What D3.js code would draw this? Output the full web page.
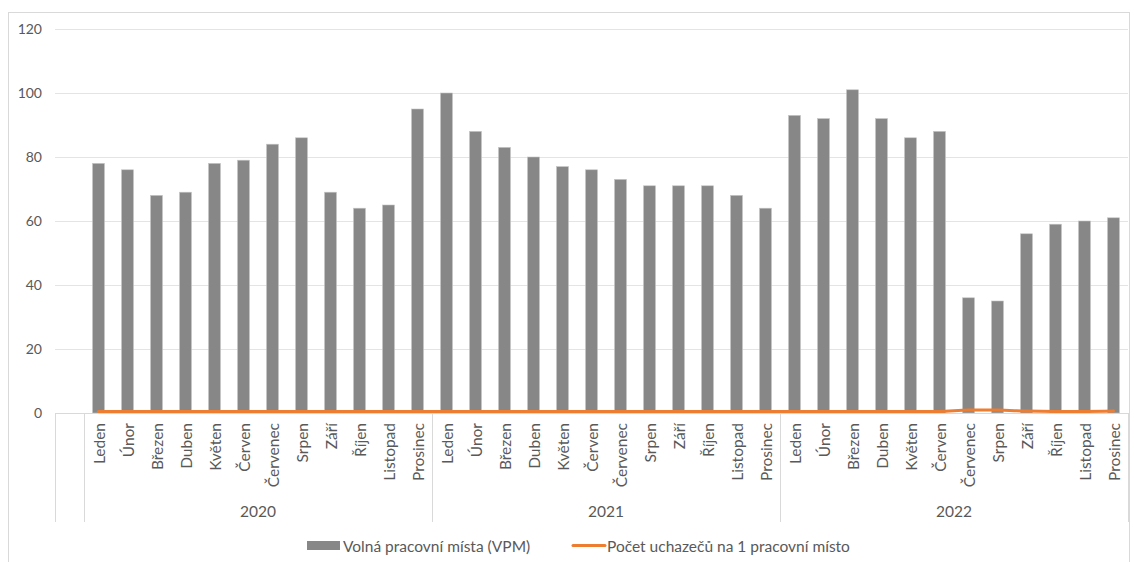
<!DOCTYPE html>
<html>
<head>
<meta charset="utf-8">
<script src="https://cdn.jsdelivr.net/npm/d3@7"></script>
<style>
  html, body { margin: 0; padding: 0; background: #fff; }
  svg { display: block; }
  text { font-family: Lato, "Noto Sans", sans-serif; fill: #595959; }
</style>
</head>
<body>
<svg id="chart" width="1134" height="562"></svg>
<script>
const years = ["2020", "2021", "2022"];
const months = ["Leden", "Únor", "Březen", "Duben", "Květen", "Červen", "Červenec", "Srpen", "Září", "Říjen", "Listopad", "Prosinec"];
const vpm2020 = [78, 76, 68, 69, 78, 79, 84, 86, 69, 64, 65, 95];
const vpm2021 = [100, 88, 83, 80, 77, 76, 73, 71, 71, 71, 68, 64];
const vpm2022 = [93, 92, 101, 92, 86, 88, 36, 35, 56, 59, 60, 61];
const uch2020 = [0.5, 0.5, 0.5, 0.5, 0.5, 0.5, 0.5, 0.5, 0.5, 0.5, 0.5, 0.5];
const uch2021 = [0.5, 0.5, 0.5, 0.5, 0.5, 0.5, 0.5, 0.5, 0.5, 0.5, 0.5, 0.5];
const uch2022 = [0.5, 0.5, 0.5, 0.5, 0.5, 0.5, 0.9, 0.9, 0.6, 0.5, 0.5, 0.6];
const yTicks = [0, 20, 40, 60, 80, 100, 120];
const seriesNames = ["Volná pracovní místa (VPM)", "Počet uchazečů na 1 pracovní místo"];

(function () {
const vpmByYear = [vpm2020, vpm2021, vpm2022];
const uchByYear = [uch2020, uch2021, uch2022];
const rows = [];
years.forEach((yr, yi) => months.forEach((m, mi) => rows.push({
  key: yr + "-" + m, year: yr, month: m, vpm: vpmByYear[yi][mi], uch: uchByYear[yi][mi]
})));

const svg = d3.select("#chart");
const pLeft = 55, pRight = 1128, pTop = 29, pBottom = 413, catBottom = 522;
const gray = "#878787", orange = "#ED7D31", grid = "#e1e4ea", axisC = "#d9d9d9";

// outer border
svg.append("rect").attr("x", 8.5).attr("y", 12.5).attr("width", 1121).attr("height", 560)
  .attr("fill", "none").attr("stroke", "#d9d9d9").attr("stroke-width", 1);

const x = d3.scaleBand().domain(["__blank__"].concat(rows.map(r => r.key)))
  .range([pLeft, pRight]).paddingInner(0).paddingOuter(0);
const y = d3.scaleLinear().domain([0, 120]).range([pBottom, pTop]);
const bw = x.bandwidth() * 0.41;

// gridlines + y labels
const yAxis = d3.axisLeft(y).tickValues(yTicks).tickSize(-(pRight - pLeft)).tickPadding(13).tickFormat(d3.format("d"));
const gy = svg.append("g").attr("transform", `translate(${pLeft},0)`).call(yAxis);
gy.select(".domain").remove();
gy.selectAll(".tick line").attr("stroke", grid).attr("stroke-width", 1.2);
gy.selectAll(".tick text").style("font-size", "14px").attr("fill", "#595959").style("font-family", "Lato, 'Noto Sans', sans-serif");
gy.selectAll(".tick").filter(d => d === 0).select("line").remove();

// bars
svg.append("g").selectAll("rect").data(rows).join("rect")
  .attr("x", d => x(d.key) + (x.bandwidth() - bw) / 2)
  .attr("y", d => y(d.vpm))
  .attr("width", bw)
  .attr("height", d => y(0) - y(d.vpm))
  .attr("fill", gray)
  .attr("stroke", "#c4c4c4").attr("stroke-width", 0.6);

// category axis line
svg.append("line").attr("x1", pLeft).attr("x2", pRight).attr("y1", y(0) + 0.5).attr("y2", y(0) + 0.5)
  .attr("stroke", axisC).attr("stroke-width", 1);

// group divider lines
const dividers = [x("__blank__"), x(rows[0].key)]
  .concat(years.slice(1).map(yr => x(yr + "-" + months[0])))
  .concat([pRight]);
svg.append("g").selectAll("line").data(dividers).join("line")
  .attr("x1", d => Math.round(d) + 0.5).attr("x2", d => Math.round(d) + 0.5)
  .attr("y1", y(0)).attr("y2", catBottom)
  .attr("stroke", axisC).attr("stroke-width", 1);

// month labels (rotated)
svg.append("g").selectAll("text").data(rows).join("text")
  .attr("transform", d => `translate(${x(d.key) + x.bandwidth() / 2},${y(0) + 10}) rotate(-90)`)
  .attr("text-anchor", "end").attr("dominant-baseline", "central")
  .style("font-size", "15.5px")
  .text(d => d.month);

// year labels
svg.append("g").selectAll("text").data(years).join("text")
  .attr("x", yr => (x(yr + "-" + months[0]) + x(yr + "-" + months[11]) + x.bandwidth()) / 2)
  .attr("y", 517)
  .attr("text-anchor", "middle")
  .style("font-size", "15.5px")
  .text(yr => yr);

// orange line
const line = d3.line().x(d => x(d.key) + x.bandwidth() / 2).y(d => y(d.uch)).curve(d3.curveMonotoneX);
svg.append("path").datum(rows).attr("d", line)
  .attr("fill", "none").attr("stroke", orange).attr("stroke-width", 3).attr("stroke-linecap", "round");

// legend
const lg = svg.append("g");
lg.append("rect").attr("x", 307).attr("y", 541).attr("width", 33).attr("height", 9).attr("fill", gray);
lg.append("text").attr("x", 343).attr("y", 546).attr("dominant-baseline", "central").style("font-size", "15.5px").text(seriesNames[0]);
lg.append("line").attr("x1", 573).attr("x2", 605).attr("y1", 545.5).attr("y2", 545.5)
  .attr("stroke", orange).attr("stroke-width", 3).attr("stroke-linecap", "round");
lg.append("text").attr("x", 607).attr("y", 546).attr("dominant-baseline", "central").style("font-size", "15.5px").text(seriesNames[1]);
})();
</script>
</body>
</html>
